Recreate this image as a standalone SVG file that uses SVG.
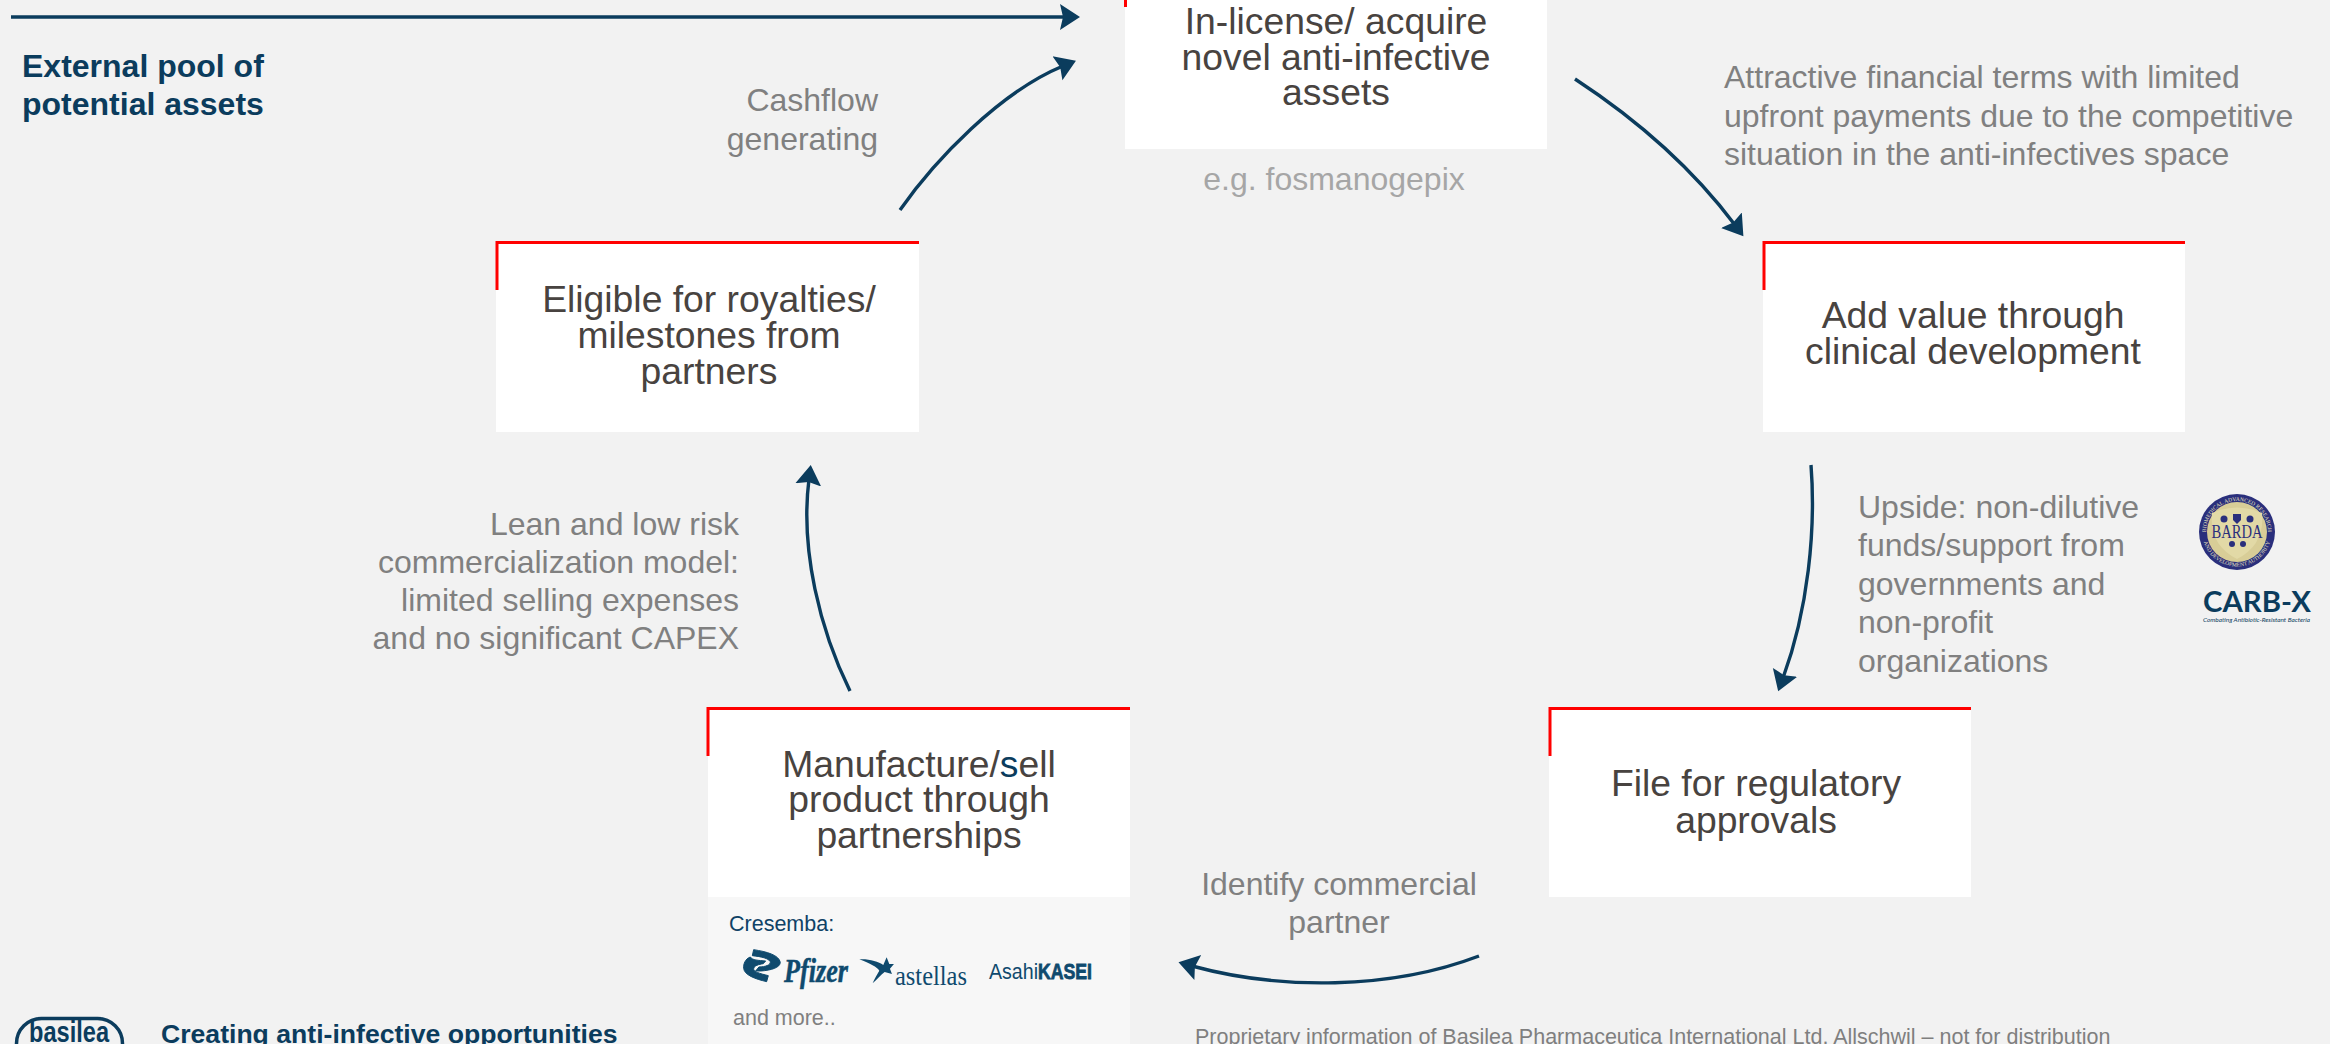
<svg xmlns="http://www.w3.org/2000/svg" width="2330" height="1044" viewBox="0 0 2330 1044">
<style>
text{font-family:"Liberation Sans",Arial,sans-serif}
.box{fill:#fff}
.red{fill:none;stroke:#f00;stroke-width:3}
.nt{font-size:37.300px;fill:#484340;text-anchor:middle}
.gr{font-size:32px;fill:#808080}
.end{text-anchor:end}
.mid{text-anchor:middle}
.arr{fill:none;stroke:#0b3c5d;stroke-width:3.400;marker-end:url(#head)}
.navy{fill:#0b3c5d}
.sl{fill:#2a2f7c}
</style>
<defs>
<marker id="head" markerUnits="userSpaceOnUse" markerWidth="30" markerHeight="30" refX="6" refY="15" orient="auto" viewBox="0 0 30 30">
<path d="M0 2L20 15L0 28L3 15Z" fill="#0b3c5d"/>
</marker>
<path id="sealtop" d="M2206 532a31 31 0 0 1 62 0"/>
<path id="sealbot" d="M2202.500 532a34.500 34.500 0 0 0 69 0"/>
</defs>
<rect width="2330" height="1044" fill="#f2f2f2"/>
<g id="connectors">
<path class="arr" d="M11 17H1066"/>
<path class="arr" d="M900 210C935 160 1000 92 1063 66"/>
<path class="arr" d="M1575 79C1630 115 1690 165 1735 225"/>
<path class="arr" d="M1811 465C1816 530 1808 610 1783 678"/>
<path class="arr" d="M1479 956C1390 990 1280 990 1192 966"/>
<path class="arr" d="M850 691C820 630 800 550 809 479"/>
</g>
<g id="external-pool">
<text class="navy" font-weight="700" font-size="32" x="22" y="77">External pool of</text>
<text class="navy" font-weight="700" font-size="32" x="22" y="115">potential assets</text>
</g>
<g id="node-inlicense">
<rect class="box" x="1125" y="0" width="422" height="149"/>
<path class="red" d="M1125.500 7V0"/>
<text class="nt" x="1336" y="34">In-license/ acquire</text>
<text class="nt" x="1336" y="70">novel anti-infective</text>
<text class="nt" x="1336" y="105">assets</text>
<text class="gr mid" x="1334" y="190" style="fill:#a6a6a6">e.g. fosmanogepix</text>
</g>
<g id="node-clinical">
<rect class="box" x="1763" y="241" width="422" height="191"/>
<path class="red" d="M1764 290V242.500H2185"/>
<text class="nt" x="1973" y="328">Add value through</text>
<text class="nt" x="1973" y="364">clinical development</text>
</g>
<g id="node-regulatory">
<rect class="box" x="1549" y="707" width="422" height="190"/>
<path class="red" d="M1550 756V708.500H1971"/>
<text class="nt" x="1756" y="796">File for regulatory</text>
<text class="nt" x="1756" y="833">approvals</text>
</g>
<g id="node-manufacture">
<rect x="708" y="897" width="422" height="147" fill="#f7f7f7"/>
<rect class="box" x="708" y="707" width="422" height="190"/>
<path class="red" d="M708 756V708.500H1130"/>
<text class="nt" x="919" y="777">Manufacture/<tspan fill="#0b3c5d">s</tspan>ell</text>
<text class="nt" x="919" y="812">product through</text>
<text class="nt" x="919" y="848">partnerships</text>
<text x="729" y="931" font-size="21.500" fill="#0f4266">Cresemba:</text>
<text x="733" y="1025" font-size="21.500" fill="#808080">and more..</text>
<g id="logo-pfizer" fill="#0f4a6e" stroke="#0f4a6e">
<path transform="translate(735 945) scale(.333)" stroke-width="3" d="M56 14C95 20 132 30 136 52C136 68 108 76 78 78L62 78L72 66C90 66 108 60 106 50C100 40 80 35 52 32Z"/>
<path transform="translate(735 945) scale(.333)" stroke-width="3" d="M46 36C30 42 25 58 26 70C28 90 60 102 95 110L100 92C75 86 55 80 56 72C56 62 72 58 85 56L92 48C70 46 52 46 46 36Z"/>
<text x="784" y="982" font-size="33" font-weight="700" font-style="italic" stroke-width=".5" textLength="64" lengthAdjust="spacingAndGlyphs" style="font-family:'Liberation Serif',serif">Pfizer</text>
</g>
<g id="logo-astellas" fill="#0f4a6e">
<path transform="translate(850 950) scale(.333)" d="M28 28C55 26 85 34 100 45L110 22L118 42L132 42L120 56L126 72L104 66C92 75 80 90 68 100C74 86 80 75 88 62C82 52 60 40 28 28Z"/>
<text x="895" y="985" font-size="27" textLength="72" lengthAdjust="spacingAndGlyphs" style="font-family:'Liberation Serif',serif">astellas</text>
</g>
<g id="logo-asahi" fill="#0f4a6e">
<text x="989" y="979" font-size="22" textLength="49" lengthAdjust="spacingAndGlyphs">Asahi</text>
<text x="1038" y="979" font-size="22" font-weight="700" stroke="#0f4a6e" stroke-width=".8" textLength="54" lengthAdjust="spacingAndGlyphs">KASEI</text>
</g>
</g>
<g id="node-royalties">
<rect class="box" x="496" y="241" width="423" height="191"/>
<path class="red" d="M497 290V242.500H919"/>
<text class="nt" x="709" y="312">Eligible for royalties/</text>
<text class="nt" x="709" y="348">milestones from</text>
<text class="nt" x="709" y="384">partners</text>
</g>
<g id="labels">
<text class="gr end" x="878" y="111">Cashflow</text>
<text class="gr end" x="878" y="150">generating</text>
<text class="gr" x="1724" y="88">Attractive financial terms with limited</text>
<text class="gr" x="1724" y="127">upfront payments due to the competitive</text>
<text class="gr" x="1724" y="165">situation in the anti-infectives space</text>
<text class="gr" x="1858" y="518">Upside: non-dilutive</text>
<text class="gr" x="1858" y="556">funds/support from</text>
<text class="gr" x="1858" y="595">governments and</text>
<text class="gr" x="1858" y="633">non-profit</text>
<text class="gr" x="1858" y="672">organizations</text>
<text class="gr mid" x="1339" y="895">Identify commercial</text>
<text class="gr mid" x="1339" y="933">partner</text>
<text class="gr end" x="739" y="535">Lean and low risk</text>
<text class="gr end" x="739" y="573">commercialization model:</text>
<text class="gr end" x="739" y="611">limited selling expenses</text>
<text class="gr end" x="739" y="649">and no significant CAPEX</text>
</g>
<g id="logo-barda">
<circle cx="2237" cy="532" r="38" class="sl"/>
<circle cx="2237" cy="532" r="30" fill="#d8cd97"/>
<path d="M2212 513Q2237 502 2262 513Q2265 545 2237 559Q2209 545 2212 513Z" fill="#e2d9a6"/>
<text x="2237" y="538" font-size="18" text-anchor="middle" textLength="51" lengthAdjust="spacingAndGlyphs" class="sl" style="font-family:'Liberation Serif',serif">BARDA</text>
<text font-size="5.600" fill="#e8e2c0" style="font-family:'Liberation Serif',serif"><textPath href="#sealtop" startOffset="50%" text-anchor="middle">BIOMEDICAL ADVANCED RESEARCH</textPath></text>
<text font-size="5.600" fill="#e8e2c0" style="font-family:'Liberation Serif',serif"><textPath href="#sealbot" startOffset="50%" text-anchor="middle">AND DEVELOPMENT AUTHORITY</textPath></text>
<circle cx="2224" cy="519" r="3.500" class="sl"/>
<path d="M2233 514H2241V520L2237 524L2233 520Z" class="sl"/>
<circle cx="2250" cy="519" r="3.500" class="sl"/>
<circle cx="2232" cy="544" r="3" class="sl"/>
<circle cx="2243" cy="544" r="3" class="sl"/>
</g>
<g id="logo-carbx">
<text x="2203" y="612" font-size="29" font-weight="700" fill="#0b3c5d" textLength="108" lengthAdjust="spacingAndGlyphs" style="font-family:Lato,sans-serif">CARB-X</text>
<text x="2203" y="622" font-size="6.500" font-style="italic" fill="#0b3c5d" textLength="107" lengthAdjust="spacingAndGlyphs" style="font-family:Lato,sans-serif">Combating Antibiotic-Resistant Bacteria</text>
</g>
<g id="footer">
<rect x="16.500" y="1018.500" width="106" height="50" rx="25" fill="none" stroke="#0b3c5d" stroke-width="3.500"/>
<text x="29" y="1042" font-size="29" font-weight="700" fill="#0b3c5d" textLength="80" lengthAdjust="spacingAndGlyphs">basilea</text>
<text class="navy" x="161" y="1043" font-size="26.600" font-weight="700">Creating anti-infective opportunities</text>
<text x="1195" y="1044" font-size="21.500" fill="#7f7f7f">Proprietary information of Basilea Pharmaceutica International Ltd. Allschwil – not for distribution</text>
</g>
</svg>
